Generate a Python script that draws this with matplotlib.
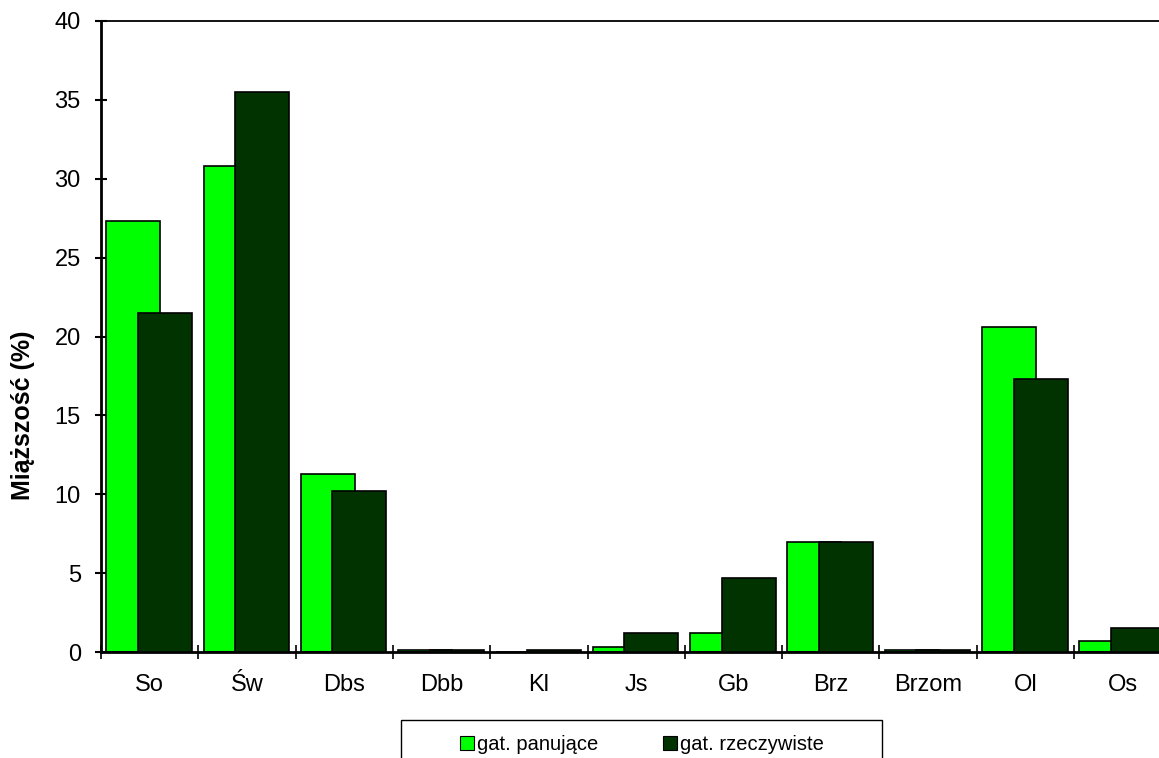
import numpy as np
import matplotlib
matplotlib.use('Agg')
import matplotlib.pyplot as plt
from matplotlib.patches import Rectangle
from matplotlib.lines import Line2D

plt.rcParams['font.family'] = ['Liberation Sans', 'DejaVu Sans']

gatunki = ['So', 'Św', 'Dbs', 'Dbb', 'Kl', 'Js', 'Gb', 'Brz', 'Brzom', 'Ol', 'Os']
panujace = [27.3, 30.8, 11.3, 0.1, 0.0, 0.3, 1.2, 7.0, 0.1, 20.6, 0.7]
rzeczywiste = [21.5, 35.5, 10.2, 0.1, 0.1, 1.2, 4.7, 7.0, 0.1, 17.3, 1.5]
seria_nazwy = ['gat. panujące', 'gat. rzeczywiste']
kolory = ['#00ff00', '#003300']

fig = plt.figure(figsize=(11.59, 7.58), dpi=100)
ax = fig.add_axes([0.0871, 0.1398, 0.9236, 0.8325])

x = np.arange(len(gatunki))
w = 0.555
ax.bar(x - 0.168, panujace, width=w, color=kolory[0], edgecolor='black', linewidth=1.2, zorder=2)
ax.bar(x + 0.155, rzeczywiste, width=w, color=kolory[1], edgecolor='black', linewidth=1.2, zorder=3)

ax.set_xlim(-0.5, len(gatunki) - 0.5)
ax.set_ylim(0, 40)
ax.set_yticks(np.arange(0, 41, 5))
ax.set_xticks(x)
ax.set_xticklabels(gatunki)
ax.set_xticks(np.arange(-0.5, len(gatunki), 1), minor=True)

ax.tick_params(axis='y', direction='inout', length=9, width=1.5, labelsize=17, pad=10)
ax.tick_params(axis='x', which='major', length=0, labelsize=17, pad=16)
ax.tick_params(axis='x', which='minor', direction='inout', length=10, width=1.2)

ax.spines['right'].set_visible(False)
ax.spines['left'].set_linewidth(2)
ax.spines['bottom'].set_linewidth(2)
ax.spines['top'].set_linewidth(1.3)

ax.set_ylabel('Miąższość (%)', fontsize=18, fontweight='bold')
ax.yaxis.set_label_coords(-0.0615, 0.375)

# ramka legendy (ucięta u dołu)
fig.patches.append(Rectangle((401 / 1159, -0.05), 481 / 1159, 0.05 + 38 / 758,
                             transform=fig.transFigure, facecolor='white',
                             edgecolor='black', linewidth=1))
uchwyty = [Line2D([], [], marker='s', linestyle='none', markersize=10,
                  markerfacecolor=k, markeredgecolor='black', markeredgewidth=0.8)
           for k in kolory]
fig.legend(uchwyty, seria_nazwy, loc='center', bbox_to_anchor=(0.554, 0.018),
           ncol=2, frameon=False, fontsize=14.5, handlelength=0.7, handletextpad=0.15,
           columnspacing=3.2)

fig.savefig('out.png', dpi=100)
